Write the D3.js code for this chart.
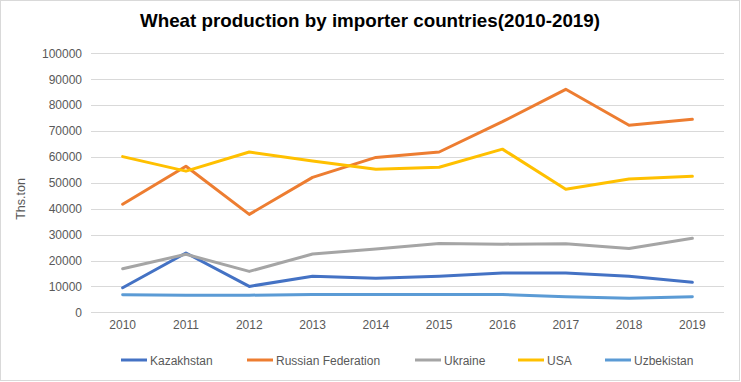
<!DOCTYPE html>
<html>
<head>
<meta charset="utf-8">
<script src="https://cdn.jsdelivr.net/npm/d3@7"></script>
<style>
  html, body { margin: 0; padding: 0; background: #fff; }
  svg { display: block; }
  text { font-family: "Liberation Sans", Arial, sans-serif; }
</style>
</head>
<body>
<svg id="chart" width="741" height="382"></svg>
<script>
const years = [2010, 2011, 2012, 2013, 2014, 2015, 2016, 2017, 2018, 2019];
const yTicks = [0, 10000, 20000, 30000, 40000, 50000, 60000, 70000, 80000, 90000, 100000];
const seriesNames = ["Kazakhstan", "Russian Federation", "Ukraine", "USA", "Uzbekistan"];
const kazakhstan = [9500, 22900, 10000, 13900, 13100, 13900, 15200, 15200, 13900, 11600];
const russia     = [41700, 56400, 37800, 52100, 59800, 61900, 73600, 86100, 72200, 74500];
const ukraine    = [16800, 22400, 15800, 22500, 24400, 26600, 26300, 26500, 24600, 28600];
const usa        = [60100, 54500, 61900, 58400, 55200, 56000, 63000, 47500, 51500, 52500];
const uzbekistan = [6800, 6600, 6600, 6900, 6900, 6900, 6900, 6000, 5400, 6000];
const seriesValues = [kazakhstan, russia, ukraine, usa, uzbekistan];
const colors = ["#4472C4", "#ED7D31", "#A5A5A5", "#FFC000", "#5B9BD5"];

const svg = d3.select("#chart");
const plot = { left: 91, right: 724, top: 53.3, bottom: 312.3 };

svg.append("rect").attr("x", 0.5).attr("y", 0.5).attr("width", 739).attr("height", 380)
  .attr("fill", "#fff").attr("stroke", "#D9D9D9");

const x = d3.scaleBand().domain(years).range([plot.left, plot.right]);
const y = d3.scaleLinear().domain([0, 100000]).range([plot.bottom, plot.top]);

// gridlines
svg.append("g").selectAll("line").data(yTicks).join("line")
  .attr("x1", plot.left).attr("x2", plot.right)
  .attr("y1", d => Math.round(y(d)) + 0.5).attr("y2", d => Math.round(y(d)) + 0.5)
  .attr("stroke", "#D9D9D9").attr("stroke-width", 1);

// y axis labels
const yAxis = d3.axisLeft(y).tickValues(yTicks).tickSize(0).tickPadding(0).tickFormat(d3.format("d"));
const gy = svg.append("g").attr("transform", `translate(${plot.left - 9},0)`).call(yAxis);
gy.select(".domain").remove();
gy.selectAll("text").attr("fill", "#595959").style("font-size", "12px")
  .style("font-family", "'Liberation Sans', Arial, sans-serif");

// x axis labels
const xAxis = d3.axisBottom(x).tickSize(0).tickPadding(0);
const gx = svg.append("g").attr("transform", `translate(0,${plot.bottom + 8})`).call(xAxis);
gx.select(".domain").remove();
gx.selectAll("text").attr("fill", "#595959").style("font-size", "12px")
  .style("font-family", "'Liberation Sans', Arial, sans-serif");

// lines
const line = d3.line().x((d, i) => x(years[i]) + x.bandwidth() / 2).y(d => y(d));
svg.append("g").selectAll("path").data(seriesValues).join("path")
  .attr("d", d => line(d))
  .attr("fill", "none")
  .attr("stroke", (d, i) => colors[i])
  .attr("stroke-width", 3)
  .attr("stroke-linejoin", "round")
  .attr("stroke-linecap", "round");

// title
svg.append("text").attr("x", 370).attr("y", 27)
  .attr("text-anchor", "middle")
  .attr("textLength", 460).attr("lengthAdjust", "spacingAndGlyphs")
  .style("font-size", "18.5px").style("font-weight", "bold").attr("fill", "#000")
  .text("Wheat production by importer countries(2010-2019)");

// y axis title
svg.append("text").attr("transform", "translate(25,199) rotate(-90)")
  .attr("text-anchor", "middle").attr("fill", "#595959").style("font-size", "12.5px")
  .text("Ths.ton");

// legend
const legendX = [121, 247, 415, 518, 605];
const lg = svg.append("g").selectAll("g").data(seriesNames).join("g")
  .attr("transform", (d, i) => `translate(${legendX[i]},360)`);
lg.append("line").attr("x1", 0).attr("x2", 26).attr("y1", 0).attr("y2", 0)
  .attr("stroke", (d, i) => colors[i]).attr("stroke-width", 3);
lg.append("text").attr("x", 29).attr("y", 4.5).attr("fill", "#595959")
  .style("font-size", "12px").text(d => d);
</script>
</body>
</html>
